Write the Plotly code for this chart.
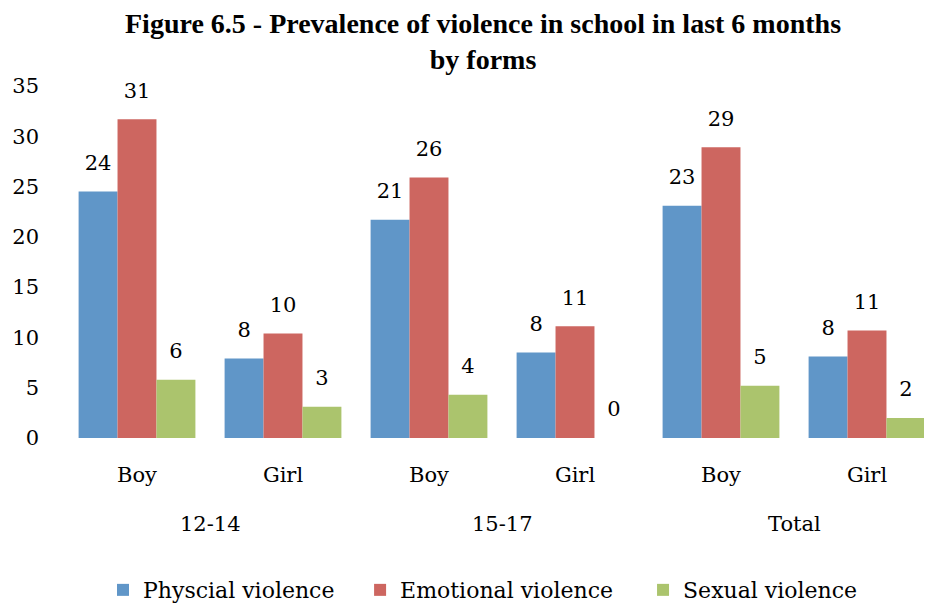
import plotly.graph_objects as go

age_groups = ["12-14", "12-14", "15-17", "15-17", "Total", "Total"]
sexes = ["Boy", "Girl", "Boy", "Girl", "Boy", "Girl"]

physical = [24.5, 7.9, 21.7, 8.5, 23.1, 8.1]
emotional = [31.7, 10.4, 25.9, 11.1, 28.9, 10.7]
sexual = [5.8, 3.1, 4.3, 0.0, 5.2, 2.0]

physical_labels = ["24", "8", "21", "8", "23", "8"]
emotional_labels = ["31", "10", "26", "11", "29", "11"]
sexual_labels = ["6", "3", "4", "0", "5", "2"]

y_ticks = [0, 5, 10, 15, 20, 25, 30, 35]

series = [
    ("Physcial violence", physical, physical_labels, "#6096C8", "legend", 0.0445),
    ("Emotional violence", emotional, emotional_labels, "#CD6660", "legend2", 0.338),
    ("Sexual violence", sexual, sexual_labels, "#ABC46D", "legend3", 0.661),
]

FONT = "DejaVu Serif"
LABEL_SIZE = 21

xpos = list(range(len(sexes)))

fig = go.Figure()
legend_layouts = {}
for name, vals, labels, color, leg, lx in series:
    fig.add_trace(go.Bar(
        name=name,
        x=xpos,
        y=vals,
        text=labels,
        texttemplate="<span style='font-size:%dpx'>%%{text}</span><br> " % LABEL_SIZE,
        textposition="outside",
        cliponaxis=False,
        textfont=dict(family=FONT, size=12, color="#000000"),
        marker=dict(color=color, line=dict(width=0)),
        legend=leg,
    ))
    legend_layouts[leg] = dict(
        orientation="h", x=lx, xanchor="left", y=-0.432, yanchor="middle",
        font=dict(family=FONT, size=22, color="#000000"),
        bgcolor="rgba(0,0,0,0)",
    )

# group labels (second level of the category axis)
groups = []
for i, g in enumerate(age_groups):
    if not groups or groups[-1][0] != g:
        groups.append([g, []])
    groups[-1][1].append(i)
for g, idx in groups:
    fig.add_annotation(
        x=sum(idx) / len(idx), xref="x", y=0, yref="paper",
        yshift=-86, yanchor="middle", showarrow=False, text=g,
        font=dict(family=FONT, size=LABEL_SIZE, color="#000000"),
    )

fig.update_layout(
    width=932, height=607,
    barmode="group", bargap=0.2, bargroupgap=0,
    plot_bgcolor="white", paper_bgcolor="white",
    margin=dict(l=56, r=0, t=78, b=177, autoexpand=False),
    font=dict(family=FONT, size=LABEL_SIZE, color="#000000"),
    title=dict(
        text="<b>Figure 6.5 - Prevalence of violence in school in last 6 months<br>by forms</b>",
        x=0.5097, xanchor="center", yref="container", y=1 - 25 / 607, yanchor="middle",
        font=dict(family="Liberation Serif", size=28, color="#000000"),
    ),
    showlegend=True,
    **legend_layouts,
)
fig.update_xaxes(
    range=[-0.5, 5.5], tickmode="array", tickvals=xpos, ticktext=sexes,
    showline=False, ticks="", showgrid=False, zeroline=False,
    tickfont=dict(family=FONT, size=LABEL_SIZE), ticklabelstandoff=22,
)
fig.update_yaxes(
    range=[0, 35], tickmode="array", tickvals=y_ticks,
    showgrid=False, showline=False, zeroline=False,
    tickfont=dict(family=FONT, size=LABEL_SIZE), ticklabelstandoff=24,
)

fig.write_html("out.html")
